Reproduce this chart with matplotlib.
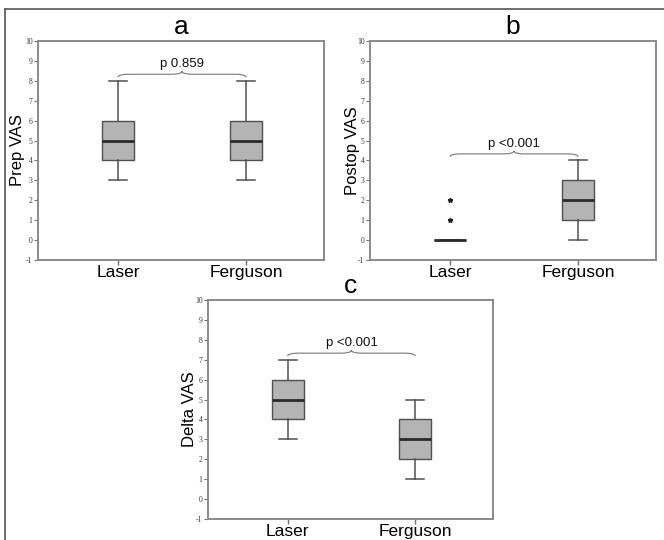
import numpy as np
import matplotlib
matplotlib.use("Agg")
import matplotlib.pyplot as plt
from matplotlib.path import Path
from matplotlib.patches import PathPatch
from matplotlib.lines import Line2D

plt.rcParams['font.family'] = ['Liberation Sans', 'DejaVu Sans']

# data: (low whisker, q1, median, q3, high whisker)
categories = ['Laser', 'Ferguson']
panel_letters = ['a', 'b', 'c']
ylabels = ['Prep VAS', 'Postop VAS', 'Delta VAS']
prep_stats = [(3, 4, 5, 6, 8), (3, 4, 5, 6, 8)]
postop_stats = [(0, 0, 0, 0, 0), (0, 1, 2, 3, 4)]
delta_stats = [(3, 4, 5, 6, 7), (1, 2, 3, 4, 5)]
postop_outliers = [[1, 2], []]
p_texts = ['p 0.859', 'p <0.001', 'p <0.001']
yticks = list(range(-1, 11))

W, H = 664, 540
fig = plt.figure(figsize=(W / 100, H / 100), dpi=100)


def px_axes(x0, y0, x1, y1):
    return fig.add_axes([x0 / W, 1 - y1 / H, (x1 - x0) / W, (y1 - y0) / H])


def brace(ax, x1, x2, base):
    yb, yl, yt = base + 0.18, base + 0.33, base + 0.48
    xm = (x1 + x2) / 2
    d = 0.08
    verts = [(x1, yb), (x1, yl), (x1 + d, yl), (xm - d, yl), (xm, yl), (xm, yt),
             (xm, yl), (xm + d, yl), (x2 - d, yl), (x2, yl), (x2, yb)]
    codes = [Path.MOVETO, Path.CURVE3, Path.CURVE3, Path.LINETO, Path.CURVE3, Path.CURVE3,
             Path.CURVE3, Path.CURVE3, Path.LINETO, Path.CURVE3, Path.CURVE3]
    ax.add_patch(PathPatch(Path(verts, codes), fc='none', ec='#777777', lw=0.8))
    return yt


def draw_panel(ax, stats, letter, ylabel, ptext, outliers=None, label_x=-0.045):
    bxp = []
    for name, (lo, q1, med, q3, hi) in zip(categories, stats):
        bxp.append(dict(label=name, whislo=lo, q1=q1, med=med, q3=q3, whishi=hi, fliers=[]))
    ax.bxp(bxp, positions=[1, 2], widths=0.25, patch_artist=True, capwidths=0.14,
           boxprops=dict(facecolor='#b4b4b4', edgecolor='#505050', linewidth=1.0),
           medianprops=dict(color='#2a2a2a', linewidth=2.0),
           whiskerprops=dict(color='#505050', linewidth=1.1),
           capprops=dict(color='#505050', linewidth=1.1),
           showfliers=False)
    if outliers:
        for pos, vals in zip([1, 2], outliers):
            if vals:
                ax.plot([pos] * len(vals), vals, ls='none', marker='*', ms=3.5,
                        color='#202020')
    top = max(s[4] for s in stats)
    yt = brace(ax, 1, 2, top)
    ax.text(1.5, yt + 0.04, ptext, ha='center', va='bottom', fontsize=9.5, color='#111111')

    ax.set_xlim(0.375, 2.61)
    ax.set_ylim(-1, 10)
    ax.set_yticks(yticks)
    ax.set_yticklabels([str(t) for t in yticks], family='Liberation Serif', fontsize=5.5,
                       color='#333333')
    ax.set_xticks([1, 2])
    ax.set_xticklabels(categories, fontsize=12.5)
    ax.tick_params(axis='y', length=3, width=0.8, color='#707070', pad=1)
    ax.tick_params(axis='x', length=3.5, width=1.0, color='#707070', pad=0)
    for sp in ax.spines.values():
        sp.set_color('#8a8a8a')
        sp.set_linewidth(1.4)
    ax.set_ylabel(ylabel, fontsize=12)
    ax.yaxis.set_label_coords(label_x, 0.5)
    ax.set_title(letter, fontsize=19, pad=5)


ax_a = px_axes(38, 41, 324, 260)
ax_b = px_axes(370, 41, 656, 260)
ax_c = px_axes(208, 300, 493, 519)

draw_panel(ax_a, prep_stats, panel_letters[0], ylabels[0], p_texts[0], label_x=-0.045)
draw_panel(ax_b, postop_stats, panel_letters[1], ylabels[1], p_texts[1],
           outliers=postop_outliers, label_x=-0.035)
draw_panel(ax_c, delta_stats, panel_letters[2], ylabels[2], p_texts[2], label_x=-0.039)

# outer frame (top and left edges)
fig.add_artist(Line2D([5 / W, 5 / W], [0, 1 - 9 / H], color='#555555', lw=1.2,
                      transform=fig.transFigure))
fig.add_artist(Line2D([5 / W, 1], [1 - 9 / H, 1 - 9 / H], color='#555555', lw=1.2,
                      transform=fig.transFigure))

fig.savefig('out.png', dpi=100)
